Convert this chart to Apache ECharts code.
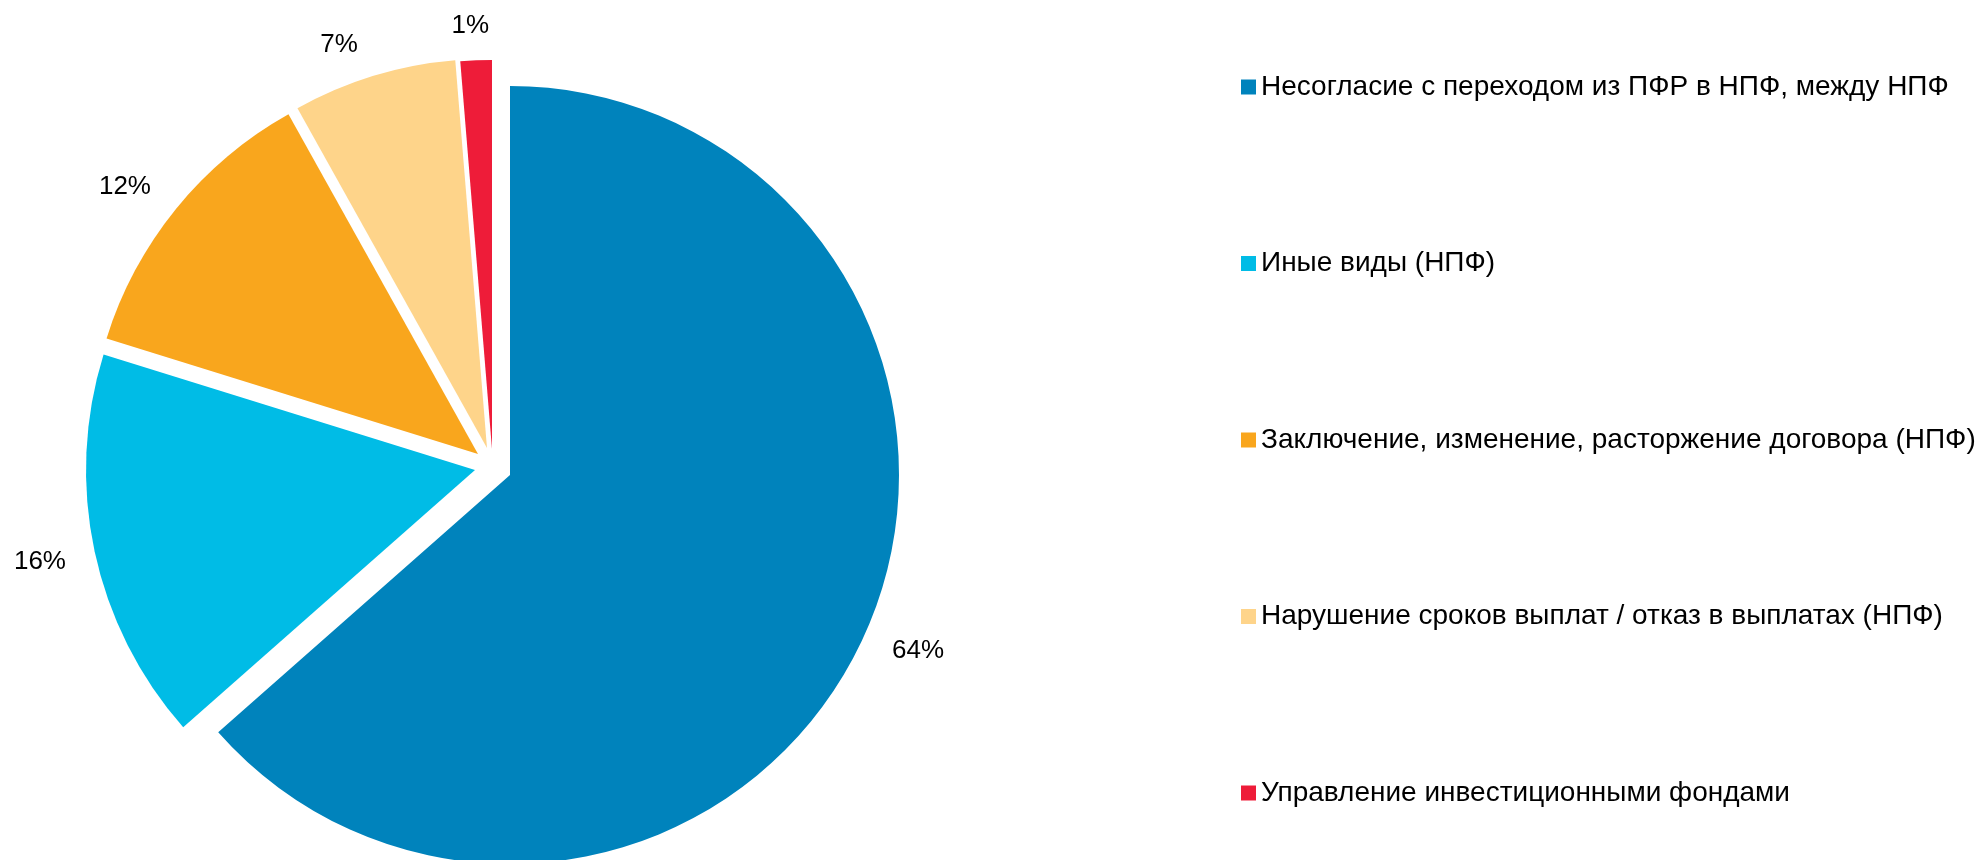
<!DOCTYPE html>
<html>
<head>
<meta charset="utf-8">
<script src="https://cdn.jsdelivr.net/npm/echarts@6/dist/echarts.min.js"></script>
<style>
html,body{margin:0;padding:0;background:#fff;}
#chart{width:1984px;height:860px;}
</style>
</head>
<body>
<div id="chart"></div>
<script>
const categories = [
  'Несогласие с переходом из ПФР в НПФ, между НПФ',
  'Иные виды (НПФ)',
  'Заключение, изменение, расторжение договора (НПФ)',
  'Нарушение сроков выплат / отказ в выплатах (НПФ)',
  'Управление инвестиционными фондами'
];
const values = [63.5, 16.3, 12.1, 6.8, 1.3];

const colors = ['#0083BC', '#00BCE6', '#F9A61D', '#FED48A', '#EE1C39'];
const centers = [[510, 475], [475, 470], [478, 454], [487, 448], [492, 449]];
const labelLens = [[37.5, -11.7], [48.8, -24.1], [35.5, -7.6], [32.8, 1.3], [34.4, -19.3]];

const font = 'Liberation Sans, Arial, sans-serif';
const chart = echarts.init(document.getElementById('chart'), null, {renderer: 'canvas'});

const series = categories.map((_, i) => ({
  type: 'pie',
  radius: 389,
  center: centers[i],
  startAngle: 90,
  clockwise: true,
  avoidLabelOverlap: false,
  silent: true,
  itemStyle: {borderWidth: 0},
  label: {
    show: true,
    position: 'outside',
    formatter: p => Math.round(p.percent) + '%',
    fontSize: 26,
    fontFamily: font,
    color: '#000'
  },
  labelLine: {show: false, length: labelLens[i][0], length2: labelLens[i][1]},
  emphasis: {disabled: true},
  data: categories.map((n, j) => ({
    name: n,
    value: values[j],
    itemStyle: {color: j === i ? colors[j] : 'rgba(0,0,0,0)', borderWidth: 0},
    label: {show: j === i}
  }))
}));

chart.setOption({
  animation: false,
  backgroundColor: '#fff',
  legend: {
    orient: 'vertical',
    left: 1236,
    top: 68,
    padding: 5,
    itemWidth: 15,
    itemHeight: 15,
    itemGap: 148.5,
    icon: 'rect',
    selectedMode: false,
    textStyle: {fontSize: 28, lineHeight: 28, fontFamily: font, color: '#000'},
    data: categories.map((n, j) => ({name: n, itemStyle: {color: colors[j]}}))
  },
  series: series
});
</script>
</body>
</html>
